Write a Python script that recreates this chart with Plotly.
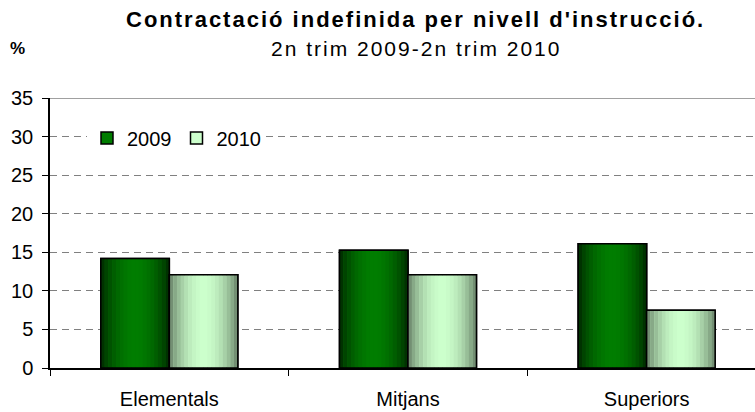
import math
import plotly.graph_objects as go

categories = ["Elementals", "Mitjans", "Superiors"]
years = ["2009", "2010"]
values_2009 = [14.2, 15.25, 16.1]
values_2010 = [12.1, 12.1, 7.5]

FONT = "Liberation Sans, Arial, sans-serif"
BAR_W = 0.287
N_SLICES = 18

styles = {
    "2009": {"edge": (0, 38, 0), "center": (0, 125, 0), "offset": -BAR_W},
    "2010": {"edge": (100, 125, 100), "center": (204, 255, 204), "offset": 0.0},
}
series = {"2009": values_2009, "2010": values_2010}


def mix(a, b, t):
    return "rgb(%d,%d,%d)" % tuple(round(a[i] + (b[i] - a[i]) * t) for i in range(3))


fig = go.Figure()
for name in years:
    st = styles[name]
    vals = series[name]
    fig.add_trace(go.Bar(
        x=categories, y=vals, name=name, width=BAR_W, offset=st["offset"],
        marker=dict(color=mix(st["edge"], st["center"], 1.0),
                    line=dict(color="black", width=1.5)),
        showlegend=True, hoverinfo="skip"))
    sw = BAR_W / N_SLICES
    for k in range(N_SLICES):
        t = (k + 0.5) / N_SLICES
        f = math.sin(math.pi * t) ** 0.8
        fig.add_trace(go.Bar(
            x=categories, y=vals, width=sw * 1.05, offset=st["offset"] + k * sw,
            marker=dict(color=mix(st["edge"], st["center"], f), line=dict(width=0)),
            showlegend=False, hoverinfo="skip"))
    fig.add_trace(go.Bar(
        x=categories, y=vals, width=BAR_W, offset=st["offset"],
        marker=dict(color="rgba(0,0,0,0)", line=dict(color="black", width=1.5)),
        showlegend=False, hoverinfo="skip"))

fig.add_shape(type="line", xref="paper", yref="y", x0=0, x1=1, y0=35, y1=35,
              line=dict(color="#808080", width=1.5), layer="below")

PLOT_L, PLOT_W, PLOT_B, PLOT_H = 50, 705, 44, 270


def px_x(x):
    return (x - PLOT_L) / PLOT_W


def px_y(y):
    return (412 - PLOT_B - y) / PLOT_H


fig.update_layout(
    width=755, height=412,
    margin=dict(l=PLOT_L, r=0, t=98, b=PLOT_B),
    paper_bgcolor="white", plot_bgcolor="white",
    barmode="overlay",
    font=dict(family=FONT, size=20, color="black"),
    showlegend=True,
    legend=dict(orientation="h", x=px_x(87), xanchor="left", y=px_y(138), yanchor="middle",
                bgcolor="white", font=dict(size=20, family=FONT), traceorder="normal",
                itemwidth=30),
    xaxis=dict(range=[-0.5, 2.454], showline=True, linecolor="black", linewidth=1.5,
               ticks="outside", tickson="boundaries", ticklen=6, tickcolor="black",
               tickfont=dict(size=20), showgrid=False, fixedrange=True,
               ticklabelstandoff=12, automargin=False),
    yaxis=dict(range=[0, 35], dtick=5, showline=True, linecolor="black", linewidth=1.5,
               ticks="outside", ticklen=6, tickcolor="black", tickfont=dict(size=20),
               showgrid=True, gridcolor="#808080", griddash="7px,5px", gridwidth=1,
               zeroline=False, ticklabelstandoff=5, automargin=False, fixedrange=True),
    annotations=[
        dict(text="<b><span style='letter-spacing:2px'>Contractació indefinida per nivell d'instrucció.</span></b>",
             xref="paper", yref="paper", x=px_x(415), y=px_y(20), xanchor="center",
             yanchor="middle", showarrow=False, font=dict(size=22, family=FONT)),
        dict(text="<span style='letter-spacing:2px'>2n trim 2009-2n trim 2010</span>",
             xref="paper", yref="paper", x=px_x(416), y=px_y(48), xanchor="center",
             yanchor="middle", showarrow=False, font=dict(size=21, family=FONT)),
        dict(text="<b>%</b>", xref="paper", yref="paper", x=px_x(17), y=px_y(48),
             xanchor="center", yanchor="middle", showarrow=False,
             font=dict(size=17, family=FONT)),
    ],
)

fig.write_html("out.html", config={"displayModeBar": False},
               post_script="document.body.style.margin='0';")
